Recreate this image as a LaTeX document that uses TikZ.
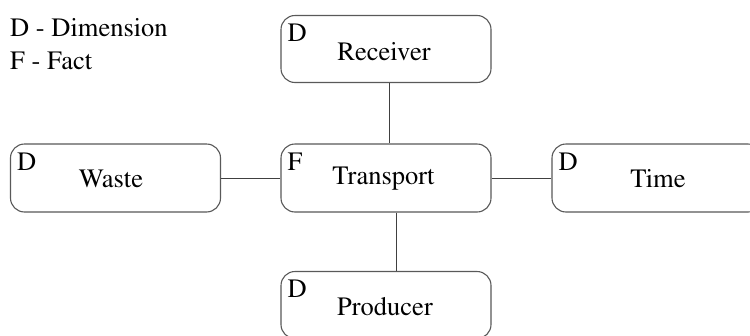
\documentclass[tikz,border=0pt]{standalone}
\usepackage[T1]{fontenc}
\usepackage{times}
\begin{document}
\begin{tikzpicture}[x=1pt,y=-1pt,
  box/.style={draw=black!65, line width=1.1pt, rounded corners=14pt, minimum width=210pt, minimum height=67pt, inner sep=0pt, fill=white},
  lbl/.style={font=\fontsize{26.5}{30}\selectfont, inner sep=0pt},
  conn/.style={draw=black!75, line width=1pt}]
\useasboundingbox (0,0) rectangle (750,335);
\clip (0,0) rectangle (750,335);
\fill[white] (0,0) rectangle (750,335);
% legend
\node[lbl, anchor=base west] (leg1) at (10,36) {D - Dimension};
\node[lbl, anchor=base west] (leg2) at (10,69.5) {F - Fact};
% boxes
\node[box] (R) at (386,49) {};
\node[box, minimum height=68pt] (T) at (386,178) {};
\node[box, minimum height=68pt] (W) at (115.5,178) {};
\node[box, minimum height=68pt] (Ti) at (657,178) {};
\node[box] (P) at (386,305) {};
% connectors
\draw[conn] ([xshift=3pt]R.south) -- ([xshift=3pt]T.north);
\draw[conn] ([xshift=10pt]T.south) -- ([xshift=10pt]P.north);
\draw[conn] (W.east) -- (T.west);
\draw[conn] (T.east) -- (Ti.west);
% type letters
\node[lbl, anchor=base west] (Rd) at ([xshift=7pt,yshift=-27pt]R.north west) {D};
\node[lbl, anchor=base west] (Tf) at ([xshift=7pt,yshift=-27pt]T.north west) {F};
\node[lbl, anchor=base west] (Wd) at ([xshift=7pt,yshift=-27pt]W.north west) {D};
\node[lbl, anchor=base west] (Tid) at ([xshift=7pt,yshift=-27pt]Ti.north west) {D};
\node[lbl, anchor=base west] (Pd) at ([xshift=7pt,yshift=-27pt]P.north west) {D};
% names
\node[lbl, anchor=base] (Rt) at (384,60) {Receiver};
\node[lbl, anchor=base] (Tt) at (383.5,184.5) {Transport};
\node[lbl, anchor=base] (Wt) at (111,187.5) {Waste};
\node[lbl, anchor=base] (Tit) at (658,187.5) {Time};
\node[lbl, anchor=base] (Pt) at (385,315) {Producer};
\end{tikzpicture}
\end{document}
